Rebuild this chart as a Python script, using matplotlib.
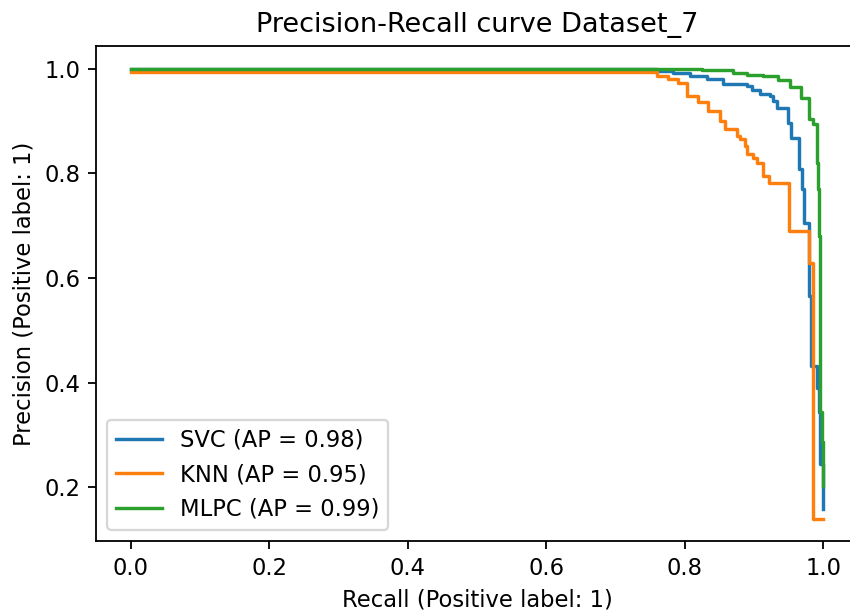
import matplotlib
matplotlib.use("Agg")
import matplotlib.pyplot as plt

svc_recall = [0.0, 0.7595, 0.7834, 0.8075, 0.8317, 0.8556, 0.8894, 0.8966, 0.9086,
              0.9231, 0.9278, 0.9327, 0.9495, 0.9530, 0.9654, 0.9688, 0.9721, 0.9798,
              0.9822, 0.9905, 0.9942, 0.9957, 0.9988, 1.0]
svc_precision = [1.0, 0.9949, 0.9905, 0.9853, 0.9790, 0.9708, 0.9662, 0.9580, 0.9517,
                 0.9471, 0.9376, 0.9236, 0.8963, 0.8676, 0.8071, 0.7689, 0.7054, 0.5652,
                 0.4316, 0.3903, 0.3432, 0.2439, 0.1580, 0.1580]

knn_recall = [0.0, 0.7595, 0.7758, 0.7902, 0.8028, 0.8191, 0.8335, 0.8509, 0.8581,
              0.8750, 0.8797, 0.8869, 0.8894, 0.8989, 0.9038, 0.9134, 0.9220, 0.9505,
              0.9798, 0.9856, 1.0]
knn_precision = [0.9929, 0.9866, 0.9790, 0.9727, 0.9471, 0.9356, 0.9185, 0.8994, 0.8835,
                 0.8707, 0.8644, 0.8517, 0.8358, 0.8295, 0.8186, 0.7944, 0.7818, 0.6894,
                 0.6290, 0.1402, 0.1402]

mlpc_recall = [0.0, 0.7830, 0.8244, 0.8696, 0.8894, 0.9134, 0.9350, 0.9519, 0.9674,
               0.9798, 0.9847, 0.9909, 0.9919, 0.9931, 0.9952, 0.9977, 0.9991, 1.0]
mlpc_precision = [1.0, 0.9981, 0.9962, 0.9918, 0.9885, 0.9853, 0.9771, 0.9643, 0.9441,
                  0.9026, 0.8944, 0.8200, 0.7690, 0.6798, 0.3432, 0.2859, 0.2025, 0.2025]

labels = ["SVC (AP = 0.98)", "KNN (AP = 0.95)", "MLPC (AP = 0.99)"]
title = "Precision-Recall curve Dataset_7"

DPI = 163
fig = plt.figure(figsize=(850 / DPI, 616 / DPI), dpi=DPI)
ax = fig.add_axes([96 / 850, 75 / 616, 762 / 850, 495 / 616])

ax.plot(svc_recall, svc_precision, drawstyle="steps-post", color="#1f77b4", label=labels[0])
ax.plot(knn_recall, knn_precision, drawstyle="steps-post", color="#ff7f0e", label=labels[1])
ax.plot(mlpc_recall, mlpc_precision, drawstyle="steps-post", color="#2ca02c", label=labels[2])

ax.set_xlim(-0.05, 1.05)
ax.set_xticks([0.0, 0.2, 0.4, 0.6, 0.8, 1.0])
ax.set_yticks([0.2, 0.4, 0.6, 0.8, 1.0])
ax.set_xlabel("Recall (Positive label: 1)")
ax.set_ylabel("Precision (Positive label: 1)")
ax.set_title(title)
ax.legend(loc="lower left")

fig.savefig("out.png", dpi=DPI)
